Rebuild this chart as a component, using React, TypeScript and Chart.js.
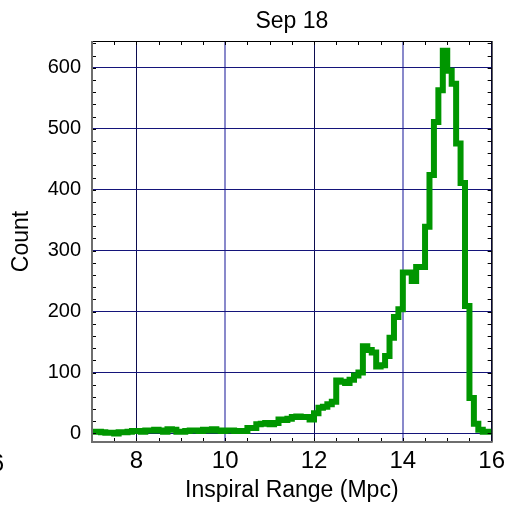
import React, { useEffect, useRef } from 'react';
import { Chart, registerables } from 'chart.js';

Chart.register(...registerables);

const TITLE = 'Sep 18';
const X_LABEL = 'Inspiral Range (Mpc)';
const Y_LABEL = 'Count';

// Left edges of the histogram bins (Mpc)
const binLeftEdges = [
  7.0, 7.1, 7.2, 7.3, 7.4, 7.5, 7.6, 7.7, 7.8, 7.9,
  8.0, 8.1, 8.2, 8.3, 8.4, 8.5, 8.6, 8.7, 8.8, 8.9,
  9.0, 9.1, 9.2, 9.3, 9.4, 9.5, 9.6, 9.7, 9.8, 9.9,
  10.0, 10.1, 10.2, 10.3, 10.4, 10.5, 10.6, 10.7, 10.8, 10.9,
  11.0, 11.1, 11.2, 11.3, 11.4, 11.5, 11.6, 11.7, 11.8, 11.9,
  12.0, 12.1, 12.2, 12.3, 12.4, 12.5, 12.6, 12.7, 12.8, 12.9,
  13.0, 13.1, 13.2, 13.3, 13.4, 13.5, 13.6, 13.7, 13.8, 13.9,
  14.0, 14.1, 14.2, 14.3, 14.4, 14.5, 14.6, 14.7, 14.8, 14.9,
  15.0, 15.1, 15.2, 15.3, 15.4, 15.5, 15.6, 15.7, 15.8, 15.9,
];
const lastBinRightEdge = 16.0;

// Counts per bin
const counts = [
  3, 3, 2, 1, 1, 0, 2, 2, 3, 4,
  4, 3, 5, 5, 6, 5, 3, 7, 6, 3,
  3, 4, 5, 5, 4, 6, 5, 7, 5, 4,
  5, 5, 4, 4, 4, 9, 9, 15, 16, 17,
  15, 17, 23, 22, 24, 27, 28, 27, 27, 23,
  33, 42, 44, 48, 52, 87, 85, 83, 88, 95,
  100, 143, 137, 133, 110, 112, 127, 157, 191, 204,
  264, 264, 250, 273, 273, 339, 424, 511, 563, 628,
  595, 574, 476, 411, 209, 58, 16, 6, 3, 3,
];

const xTicks = [8, 10, 12, 14, 16];
const yTicks = [0, 100, 200, 300, 400, 500, 600];
const xRange = [7, 16];
const yRange = [-14, 644];

const FONT = 'Liberation Sans, Arial, sans-serif';

const decorPlugin = {
  id: 'decor',
  afterDraw(chart: any) {
    const { ctx, chartArea } = chart;
    const { left, right, top, bottom } = chartArea;
    const xs = chart.scales.x;
    const ys = chart.scales.y;
    ctx.save();
    // minor ticks
    ctx.strokeStyle = '#000';
    ctx.lineWidth = 1;
    const tl = 4;
    ctx.beginPath();
    for (let v = xRange[0] + 0.5; v < xRange[1]; v += 0.5) {
      const px = Math.round(xs.getPixelForValue(v)) + 0.5;
      ctx.moveTo(px, bottom);
      ctx.lineTo(px, bottom - tl);
      ctx.moveTo(px, top);
      ctx.lineTo(px, top + tl);
    }
    for (let v = 0; v <= yRange[1]; v += 20) {
      const py = Math.round(ys.getPixelForValue(v)) + 0.5;
      ctx.moveTo(left, py);
      ctx.lineTo(left + tl, py);
      ctx.moveTo(right, py);
      ctx.lineTo(right - tl, py);
    }
    ctx.stroke();
    // frame
    ctx.strokeStyle = '#000';
    ctx.lineWidth = 1;
    ctx.beginPath();
    ctx.moveTo(left, top + 0.5);
    ctx.lineTo(right, top + 0.5);
    ctx.moveTo(right + 0.5, top);
    ctx.lineTo(right + 0.5, bottom);
    ctx.stroke();
    ctx.strokeStyle = '#6e6e6e';
    ctx.lineWidth = 2;
    ctx.beginPath();
    ctx.moveTo(left, top);
    ctx.lineTo(left, bottom + 1);
    ctx.moveTo(left, bottom);
    ctx.lineTo(right + 1, bottom);
    ctx.stroke();
    // title
    ctx.fillStyle = '#000';
    ctx.font = `23px ${FONT}`;
    ctx.textAlign = 'center';
    ctx.textBaseline = 'alphabetic';
    ctx.fillText(TITLE, (left + right) / 2, 28);
    // clipped stray tick label at the left edge
    ctx.font = `24px ${FONT}`;
    ctx.textAlign = 'right';
    ctx.fillText('6', 4, 470.5);
    ctx.restore();
  },
};

export default function App() {
  const ref = useRef<HTMLCanvasElement | null>(null);

  useEffect(() => {
    if (!ref.current) return;
    const points = binLeftEdges.map((x, i) => ({ x, y: counts[i] }));
    points.push({ x: lastBinRightEdge, y: counts[counts.length - 1] });

    const chart = new Chart(ref.current, {
      type: 'line',
      data: {
        datasets: [
          {
            data: points,
            stepped: 'before',
            borderColor: '#009600',
            borderWidth: 6,
            pointRadius: 0,
            fill: false,
            borderJoinStyle: 'miter',
          },
        ],
      },
      options: {
        responsive: false,
        animation: false,
        layout: { padding: { top: 41, right: 16, left: 0, bottom: 0 } },
        plugins: {
          legend: { display: false },
          tooltip: { enabled: false },
          title: { display: false },
        },
        scales: {
          x: {
            type: 'linear',
            min: xRange[0],
            max: xRange[1],
            afterFit: (s: any) => {
              s.height = 70;
            },
            afterBuildTicks: (s: any) => {
              s.ticks = xTicks.map((v) => ({ value: v }));
            },
            ticks: {
              color: '#000',
              font: { family: FONT, size: 24 },
              padding: 5,
              maxRotation: 0,
              autoSkip: false,
            },
            grid: {
              drawTicks: false,
              color: (c: any) =>
                c.tick && (c.tick.value === 10 || c.tick.value === 14)
                  ? 'rgba(40,40,160,0.55)'
                  : '#0c0c50',
              lineWidth: (c: any) =>
                c.tick && (c.tick.value === 10 || c.tick.value === 14) ? 2 : 1,
            },
            border: { display: false },
            title: {
              display: true,
              text: X_LABEL,
              color: '#000',
              font: { family: FONT, size: 23 },
              padding: { top: 0, bottom: 8 },
            },
          },
          y: {
            type: 'linear',
            min: yRange[0],
            max: yRange[1],
            afterFit: (s: any) => {
              s.width = 92;
            },
            afterBuildTicks: (s: any) => {
              s.ticks = yTicks.map((v) => ({ value: v }));
            },
            ticks: {
              color: '#000',
              font: { family: FONT, size: 20 },
              padding: 11,
              autoSkip: false,
            },
            grid: {
              drawTicks: false,
              color: '#14147a',
              lineWidth: 1,
            },
            border: { display: false },
            title: {
              display: true,
              text: Y_LABEL,
              color: '#000',
              font: { family: FONT, size: 23 },
              padding: { top: 8, bottom: 0 },
            },
          },
        },
      },
      plugins: [decorPlugin],
    });
    return () => chart.destroy();
  }, []);

  return (
    <div style={{ position: 'fixed', left: 0, top: 0, width: 510, height: 512, background: '#fff' }}>
      <canvas ref={ref} width={510} height={512} style={{ width: 510, height: 512, display: 'block' }} />
    </div>
  );
}
